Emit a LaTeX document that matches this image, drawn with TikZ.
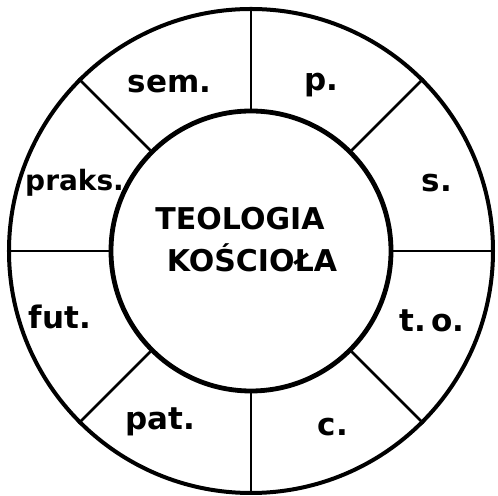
\documentclass[tikz,border=0pt]{standalone}
\usepackage{fontspec}
\setmainfont{DejaVu Sans}
\usetikzlibrary{positioning}

\begin{document}
\begin{tikzpicture}[
  x=0.5pt,y=0.5pt,
  rim/.style={circle,draw=black,line width=2pt,minimum size=242pt,inner sep=0pt},
  hub/.style={circle,draw=black,line width=2.4pt,minimum size=140pt,inner sep=0pt},
  spoke/.style={draw=black,line width=1.4pt},
  lbl/.style={font=\fontsize{15.5}{18}\selectfont\bfseries,inner sep=1pt},
  hd/.style={anchor=base,font=\fontsize{15}{18}\selectfont\bfseries,inner sep=1pt}
]
\useasboundingbox (-251,-245) rectangle (247,251);
\node[rim] (rim) at (0,0) {};
\node[hub] (hub) at (0,0) {};
\foreach \a in {0,45,...,315}
  \draw[spoke] (hub.\a) -- (rim.\a);

% sector labels
\node[lbl] (sem)   at (116:186) {sem.};
\node[lbl] (p)     at (67:180)  {p.};
\node[lbl] (s)     at (20:198)  {s.};
\node[lbl] (to)    at (-21:194) {t.\,o.};
\node[lbl] (c)     at (-65:194) {c.};
\node[lbl] (pat)   at (242:194) {pat.};
\node[lbl] (fut)   at (199:202) {fut.};
\node[lbl,font=\fontsize{14}{16}\selectfont\bfseries] (praks) at (159:189) {praks.};

% centre
\node[hd] (teo) at (-11,21)  {TEOLOGIA};
\node[hd] (kos) at (1,-21)   {KOŚCIOŁA};
\end{tikzpicture}
\end{document}
